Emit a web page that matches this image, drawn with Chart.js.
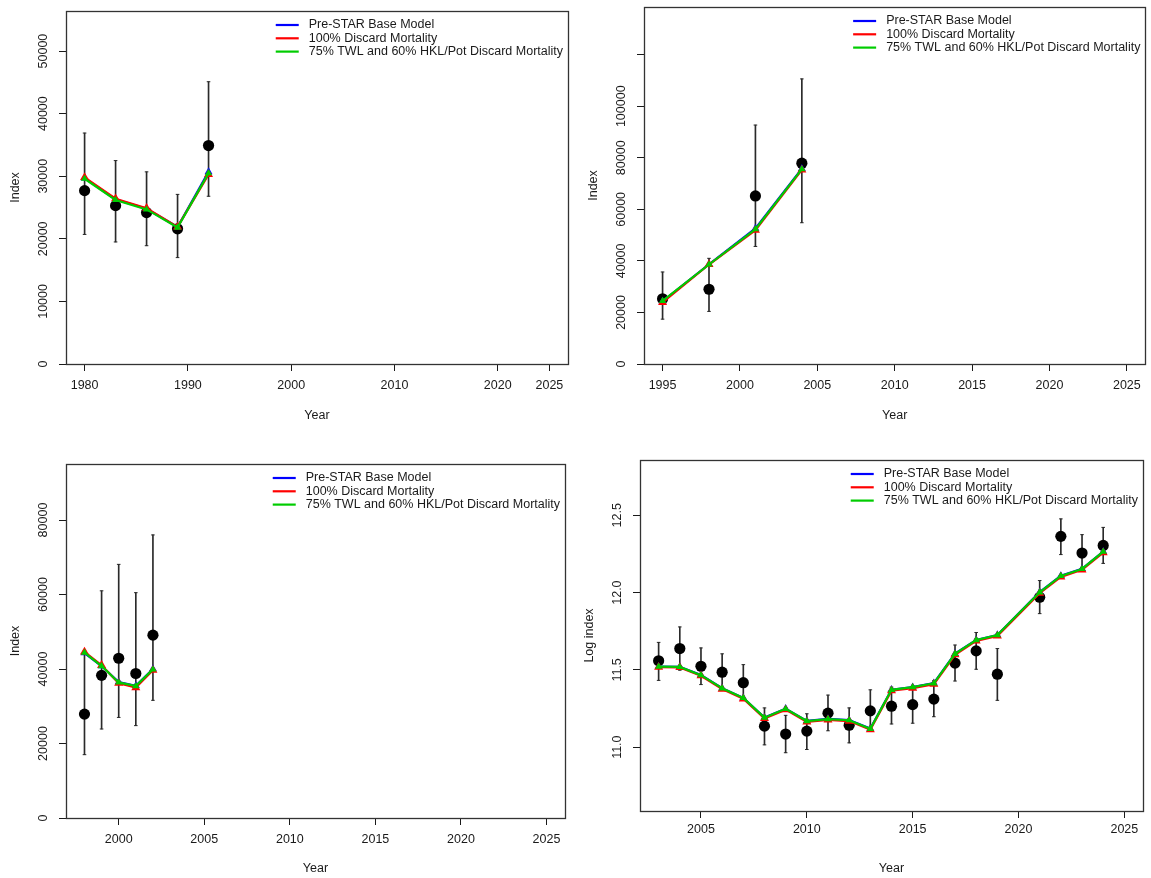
<!DOCTYPE html>
<html>
<head>
<meta charset="utf-8">
<script src="https://cdn.jsdelivr.net/npm/chart.js@4.4.1/dist/chart.umd.min.js"></script>
<style>
html, body { margin: 0; padding: 0; background: #fff; }
#page { position: relative; width: 1151px; height: 878px; overflow: hidden; }
canvas { position: absolute; }
</style>
</head>
<body>
<div id="page">
  <canvas id="p1" width="575" height="439" style="left:0;top:0"></canvas>
  <canvas id="p2" width="576" height="439" style="left:575px;top:0"></canvas>
  <canvas id="p3" width="575" height="439" style="left:0;top:439px"></canvas>
  <canvas id="p4" width="576" height="439" style="left:575px;top:439px"></canvas>
</div>
<script>
const SERIES_NAMES = ['Pre-STAR Base Model', '100% Discard Mortality', '75% TWL and 60% HKL/Pot Discard Mortality'];

// panel A
const yearsA = [1980, 1983, 1986, 1989, 1992];
const obsA = [27700, 25300, 24200, 21600, 34900];
const loA = [20700, 19500, 18900, 17000, 26800];
const hiA = [36900, 32500, 30700, 27100, 45100];
const baseA = [29700, 26300, 24800, 21900, 30700];
const dm100A = [29800, 26400, 24900, 21900, 30300];
const dm75A = [29600, 26200, 24700, 21800, 30500];
const xTicksA = [1980, 1990, 2000, 2010, 2020, 2025];
const yTicksA = [0, 10000, 20000, 30000, 40000, 50000];
const yLabelsA = ['0', '10000', '20000', '30000', '40000', '50000'];

// panel B
const yearsB = [1995, 1998, 2001, 2004];
const obsB = [25300, 29000, 65200, 77900];
const loB = [17400, 20400, 45600, 54800];
const hiB = [35700, 41000, 92700, 110600];
const baseB = [24300, 38700, 52600, 75800];
const dm100B = [23900, 38600, 51900, 75300];
const dm75B = [24500, 38600, 52300, 75600];
const xTicksB = [1995, 2000, 2005, 2010, 2015, 2020, 2025];
const yTicksB = [0, 20000, 40000, 60000, 80000, 100000, 120000];
const yLabelsB = ['0', '20000', '40000', '60000', '80000', '100000', ''];

// panel C
const yearsC = [1998, 1999, 2000, 2001, 2002];
const obsC = [27900, 38300, 42900, 38800, 49100];
const loC = [17000, 23900, 27000, 24800, 31600];
const hiC = [44800, 61000, 68100, 60500, 76000];
const baseC = [44300, 40800, 36500, 35500, 40000];
const dm100C = [44600, 41000, 36200, 35000, 39700];
const dm75C = [44400, 40800, 36400, 35400, 39900];
const xTicksC = [2000, 2005, 2010, 2015, 2020, 2025];
const yTicksC = [0, 20000, 40000, 60000, 80000];
const yLabelsC = ['0', '20000', '40000', '60000', '80000'];

// panel D (log scale values, no 2020)
const yearsD = [2003, 2004, 2005, 2006, 2007, 2008, 2009, 2010, 2011, 2012, 2013, 2014, 2015, 2016, 2017, 2018, 2019, 2021, 2022, 2023, 2024];
const obsD = [11.559, 11.638, 11.523, 11.485, 11.417, 11.136, 11.085, 11.104, 11.220, 11.142, 11.235, 11.265, 11.275, 11.311, 11.544, 11.623, 11.472, 11.970, 12.364, 12.256, 12.305];
const loD = [11.432, 11.498, 11.405, 11.367, 11.303, 11.015, 10.964, 10.985, 11.106, 11.028, 11.104, 11.150, 11.155, 11.197, 11.428, 11.504, 11.303, 11.864, 12.246, 12.138, 12.189];
const hiD = [11.678, 11.778, 11.642, 11.604, 11.534, 11.254, 11.206, 11.216, 11.337, 11.254, 11.371, 11.388, 11.394, 11.430, 11.661, 11.742, 11.638, 12.078, 12.477, 12.375, 12.422];
const baseD = [11.522, 11.520, 11.467, 11.382, 11.319, 11.192, 11.249, 11.170, 11.183, 11.175, 11.120, 11.372, 11.389, 11.414, 11.605, 11.694, 11.726, 12.003, 12.109, 12.154, 12.266];
const dm100D = [11.517, 11.516, 11.462, 11.376, 11.313, 11.186, 11.243, 11.164, 11.177, 11.169, 11.114, 11.366, 11.382, 11.407, 11.598, 11.688, 11.720, 11.996, 12.102, 12.147, 12.259];
const dm75D = [11.521, 11.519, 11.466, 11.381, 11.318, 11.191, 11.248, 11.169, 11.182, 11.174, 11.119, 11.371, 11.388, 11.413, 11.604, 11.693, 11.725, 12.002, 12.108, 12.153, 12.265];
const xTicksD = [2005, 2010, 2015, 2020, 2025];
const yTicksD = [11.0, 11.5, 12.0, 12.5];
const yLabelsD = ['11.0', '11.5', '12.0', '12.5'];

const INK = '#1a1a1a';
const FONT = '"Liberation Sans", Arial, sans-serif';
const FONT_SIZE = 12.5;
const LINE_COLORS = ['#0000ff', '#ff0000', '#00cc00'];

const rFrame = {
    id: 'rFrame',
    afterDraw(chart) {
        const p = chart.options.plugins.rFrame;
        const { ctx, chartArea: a } = chart;
        const ys = chart.scales.y;
        ctx.save();
        ctx.strokeStyle = '#333';
        ctx.lineWidth = 1.3;
        ctx.strokeRect(Math.round(a.left) + 0.5, Math.round(a.top) + 0.5, Math.round(a.right - a.left), Math.round(a.bottom - a.top));

        ctx.fillStyle = INK;
        ctx.font = `${FONT_SIZE}px ${FONT}`;
        ctx.textAlign = 'center';
        ctx.textBaseline = 'middle';
        // y tick labels, parallel to the axis like R
        p.yTicks.forEach((v, i) => {
            ctx.save();
            ctx.translate(a.left - 22, ys.getPixelForValue(v));
            ctx.rotate(-Math.PI / 2);
            ctx.fillText(p.yLabels[i], 0, 0);
            ctx.restore();
        });
        ctx.save();
        ctx.translate(a.left - 50, (a.top + a.bottom) / 2);
        ctx.rotate(-Math.PI / 2);
        ctx.fillText(p.yTitle, 0, 0);
        ctx.restore();
        ctx.fillText('Year', (a.left + a.right) / 2, a.bottom + p.titleGap);

        // legend, top right, no box
        ctx.textAlign = 'left';
        const w = Math.max(...SERIES_NAMES.map((s) => ctx.measureText(s).width));
        const tx = a.right - 5 - w;
        SERIES_NAMES.forEach((s, i) => {
            const y = a.top + 14 + i * 13.3;
            ctx.strokeStyle = LINE_COLORS[i];
            ctx.lineWidth = 2.2;
            ctx.beginPath();
            ctx.moveTo(tx - 33, y);
            ctx.lineTo(tx - 10, y);
            ctx.stroke();
            ctx.fillText(s, tx, y);
        });
        ctx.restore();
    },
};

function panel(id, p) {
    const pts = (vals) => p.years.map((x, i) => ({ x, y: vals[i] }));
    const markerSize = [4.6, 5.2, 4.2];
    const models = [p.base, p.dm100, p.dm75].map((vals, i) => ({
        type: 'line',
        label: SERIES_NAMES[i],
        data: pts(vals),
        borderColor: LINE_COLORS[i],
        backgroundColor: LINE_COLORS[i],
        borderWidth: 2.2,
        pointStyle: 'triangle',
        pointRadius: markerSize[i],
        pointBorderWidth: 0,
        pointBackgroundColor: LINE_COLORS[i],
        order: 3 - i,
    }));
    new Chart(document.getElementById(id), {
        type: 'scatter',
        data: {
            datasets: [
                {
                    type: 'bar',
                    data: p.years.map((x, i) => ({ x, y: [p.lo[i], p.hi[i]] })),
                    backgroundColor: '#2a2a2a',
                    borderWidth: 0,
                    barThickness: 1,
                    grouped: false,
                    order: 6,
                },
                {
                    data: p.years.flatMap((x, i) => [{ x, y: p.lo[i] }, { x, y: p.hi[i] }]),
                    pointStyle: 'line',
                    pointRadius: 1.8,
                    borderColor: '#2a2a2a',
                    borderWidth: 1,
                    order: 5,
                },
                {
                    data: pts(p.obs),
                    pointRadius: 5.6,
                    backgroundColor: '#000',
                    borderColor: '#000',
                    borderWidth: 0,
                    order: 4,
                },
                ...models,
            ],
        },
        options: {
            responsive: false,
            animation: false,
            events: [],
            layout: { padding: { top: p.padTop, right: p.padRight, left: 0, bottom: 0 } },
            plugins: {
                legend: { display: false },
                tooltip: { enabled: false },
                rFrame: { yTicks: p.yTicks, yLabels: p.yLabels, yTitle: p.yTitle, titleGap: p.titleGap },
            },
            scales: {
                x: {
                    type: 'linear',
                    min: p.xMin,
                    max: p.xMax,
                    offset: false,
                    afterBuildTicks: (s) => { s.ticks = p.xTicks.map((v) => ({ value: v })); },
                    afterFit: (s) => { s.height = p.xH; },
                    grid: { drawOnChartArea: false, drawTicks: true, tickLength: 7, color: INK, offset: false },
                    border: { display: true, color: INK },
                    ticks: {
                        autoSkip: false, maxRotation: 0, minRotation: 0, padding: p.labelPad,
                        color: INK, font: { family: FONT, size: FONT_SIZE },
                        callback: (v) => String(v),
                    },
                },
                y: {
                    type: 'linear',
                    min: p.yMin,
                    max: p.yMax,
                    afterBuildTicks: (s) => { s.ticks = p.yTicks.map((v) => ({ value: v })); },
                    afterFit: (s) => { s.width = p.yW; },
                    grid: { drawOnChartArea: false, drawTicks: true, tickLength: 7, color: INK },
                    border: { display: true, color: INK },
                    ticks: { display: false },
                },
            },
        },
        plugins: [rFrame],
    });
}

panel('p1', {
    years: yearsA, obs: obsA, lo: loA, hi: hiA, base: baseA, dm100: dm100A, dm75: dm75A,
    xTicks: xTicksA, yTicks: yTicksA, yLabels: yLabelsA, yTitle: 'Index',
    xMin: 1978.2, xMax: 2026.8, yMin: 0, yMax: 56400,
    yW: 66, xH: 75, padTop: 11, padRight: 7, labelPad: 7, titleGap: 52,
});
panel('p2', {
    years: yearsB, obs: obsB, lo: loB, hi: hiB, base: baseB, dm100: dm100B, dm75: dm75B,
    xTicks: xTicksB, yTicks: yTicksB, yLabels: yLabelsB, yTitle: 'Index',
    xMin: 1993.8, xMax: 2026.2, yMin: 0, yMax: 138500,
    yW: 69, xH: 75, padTop: 7, padRight: 1, labelPad: 7, titleGap: 52,
});
panel('p3', {
    years: yearsC, obs: obsC, lo: loC, hi: hiC, base: baseC, dm100: dm100C, dm75: dm75C,
    xTicks: xTicksC, yTicks: yTicksC, yLabels: yLabelsC, yTitle: 'Index',
    xMin: 1996.92, xMax: 2026.08, yMin: 0, yMax: 95050,
    yW: 66, xH: 60, padTop: 25, padRight: 10, labelPad: 7, titleGap: 51,
});
panel('p4', {
    years: yearsD, obs: obsD, lo: loD, hi: hiD, base: baseD, dm100: dm100D, dm75: dm75D,
    xTicks: xTicksD, yTicks: yTicksD, yLabels: yLabelsD, yTitle: 'Log index',
    xMin: 2002.12, xMax: 2025.88, yMin: 10.587, yMax: 12.858,
    yW: 65, xH: 67, padTop: 21, padRight: 8, labelPad: 4, titleGap: 58,
});
</script>
</body>
</html>
